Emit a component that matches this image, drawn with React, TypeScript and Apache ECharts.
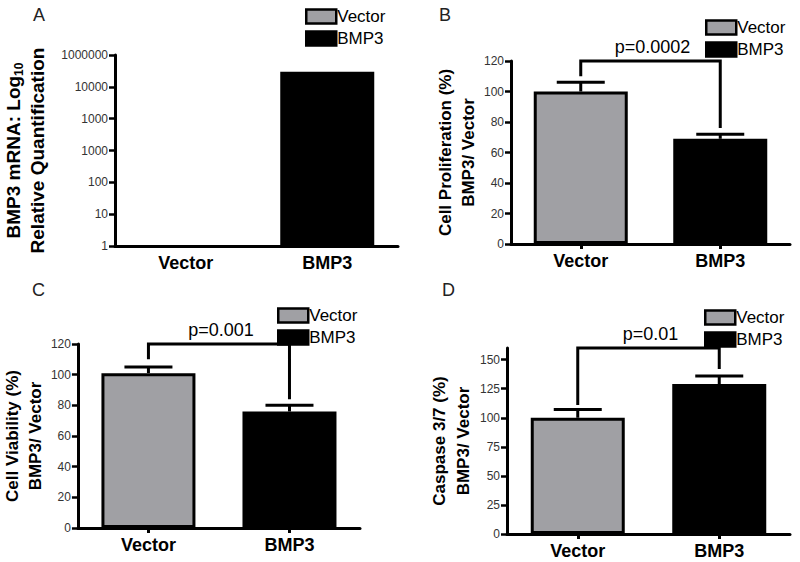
import React, { useEffect, useRef } from 'react';
import * as echarts from 'echarts';

const categories = ['Vector', 'BMP3'];
// Panel A: log scale, relative quantification
const mrnaValues = [1, 300000];
const mrnaTickLabels = ['1', '10', '100', '1000', '1000', '10000', '1000000'];
// Panel B: cell proliferation (%)
const prolifMeans = [100, 69];
const prolifUpper = [106, 72];
// Panel C: cell viability (%)
const viabMeans = [101, 76];
const viabUpper = [105, 80];
// Panel D: caspase 3/7 (%)
const caspMeans = [100, 129];
const caspUpper = [107, 136];
const caspTicks = [0, 25, 50, 75, 100, 125, 150];
// significance brackets: [top, left end, right end]
const bracketB = [120, 110, 76];
const bracketC = [120, 110, 84];
const bracketD = [160, 111, 142];
const pLabels = ['p=0.0002', 'p=0.001', 'p=0.01'];
const panelLetters = ['A', 'B', 'C', 'D'];

const FONT = 'Liberation Sans, Arial, Helvetica, sans-serif';
const GRAY = '#a0a0a4';

function xAxis(idx: number, ticks: boolean) {
  return {
    type: 'category',
    gridIndex: idx,
    data: categories,
    axisLine: { show: true, lineStyle: { color: '#000', width: 3 } },
    axisTick: { show: ticks, alignWithLabel: true, length: 5, lineStyle: { color: '#000', width: 3 } },
    axisLabel: { fontSize: 18, fontWeight: 'bold', color: '#000', margin: 8, fontFamily: FONT },
    splitLine: { show: false },
  };
}

function yAxisBase(idx: number, name: string, nameGap: number, fontSize: number, lineHeight: number) {
  return {
    gridIndex: idx,
    name,
    nameLocation: 'middle',
    nameRotate: 90,
    nameGap,
    nameTextStyle: {
      fontSize,
      fontWeight: 'bold',
      color: '#000',
      lineHeight,
      fontFamily: FONT,
      rich: {
        s: { fontSize: 12, fontWeight: 'bold', lineHeight: 16, verticalAlign: 'bottom', color: '#000' },
      },
    },
    axisLine: { show: true, lineStyle: { color: '#000', width: 3 } },
    axisTick: { show: true, length: 6, lineStyle: { color: '#000', width: 2.5 } },
    axisLabel: { fontSize: 12, color: '#333', margin: 7, fontFamily: FONT },
    splitLine: { show: false },
  };
}

function barPair(idx: number, values: number[], border: number) {
  return [
    {
      type: 'bar',
      name: 'Vector',
      xAxisIndex: idx,
      yAxisIndex: idx,
      data: [values[0], '-'],
      barWidth: 94,
      barGap: '-100%',
      itemStyle: { color: GRAY, borderColor: '#000', borderWidth: border },
      z: 2,
    },
    {
      type: 'bar',
      name: 'BMP3',
      xAxisIndex: idx,
      yAxisIndex: idx,
      data: ['-', values[1]],
      barWidth: 94,
      barGap: '-100%',
      itemStyle: { color: '#000', borderColor: '#000', borderWidth: 3 },
      z: 2,
    },
  ];
}

function errorBars(idx: number, means: number[], upper: number[]) {
  return {
    type: 'custom',
    xAxisIndex: idx,
    yAxisIndex: idx,
    z: 3,
    encode: { x: 0, y: 2 },
    data: means.map((m, i) => [i, m, upper[i]]),
    renderItem: (_params: any, api: any) => {
      const base = api.coord([api.value(0), api.value(1)]);
      const top = api.coord([api.value(0), api.value(2)]);
      return {
        type: 'group',
        children: [
          { type: 'line', shape: { x1: base[0], y1: base[1], x2: top[0], y2: top[1] }, style: { stroke: '#000', lineWidth: 3 } },
          { type: 'line', shape: { x1: top[0] - 24, y1: top[1], x2: top[0] + 24, y2: top[1] }, style: { stroke: '#000', lineWidth: 3 } },
        ],
      };
    },
  };
}

function bracket(idx: number, b: number[], label: string) {
  return {
    type: 'custom',
    xAxisIndex: idx,
    yAxisIndex: idx,
    z: 4,
    encode: { x: 0, y: 1 },
    data: [[0, b[0], b[1], b[2]]],
    renderItem: (_params: any, api: any) => {
      const l = api.coord([0, api.value(1)]);
      const r = api.coord([1, api.value(1)]);
      const le = api.coord([0, api.value(2)]);
      const re = api.coord([1, api.value(3)]);
      return {
        type: 'group',
        children: [
          {
            type: 'polyline',
            shape: { points: [[le[0], le[1]], [l[0], l[1]], [r[0], r[1]], [re[0], re[1]]] },
            style: { stroke: '#000', lineWidth: 3, fill: null },
          },
          {
            type: 'text',
            x: (l[0] + r[0]) / 2 + 2,
            y: l[1] - 5,
            style: { text: label, fill: '#000', fontSize: 18, fontFamily: FONT, align: 'center', verticalAlign: 'bottom' },
          },
        ],
      };
    },
  };
}

function legend(left: number, top: number) {
  return {
    orient: 'vertical',
    left,
    top,
    padding: 0,
    itemGap: 5,
    itemWidth: 30,
    itemHeight: 14,
    icon: 'rect',
    selectedMode: false,
    data: ['Vector', 'BMP3'],
    itemStyle: { borderColor: '#000', borderWidth: 2.5 },
    textStyle: { fontSize: 17, color: '#000', fontFamily: FONT, padding: [0, 0, 0, -4] },
  };
}

export default function App() {
  const ref = useRef<HTMLDivElement>(null);
  useEffect(() => {
    if (!ref.current) return;
    const chart = echarts.init(ref.current, null, { renderer: 'svg' });
    const titlePos = [
      [33, 6],
      [439, 6],
      [32, 281],
      [442, 281],
    ];
    const option: any = {
      animation: false,
      backgroundColor: '#fff',
      textStyle: { fontFamily: FONT },
      title: panelLetters.map((t, i) => ({
        text: t,
        left: titlePos[i][0],
        top: titlePos[i][1],
        padding: 0,
        textStyle: { fontSize: 18, fontWeight: 'normal', color: '#222', fontFamily: FONT },
      })),
      legend: [legend(305, 8), legend(705, 19), legend(277, 307), legend(704, 309)],
      grid: [
        { left: 115, top: 55, width: 283, height: 191 },
        { left: 511, top: 61, width: 279, height: 183 },
        { left: 71, top: 344, width: 289, height: 184 },
        { left: 507, top: 348, width: 283, height: 186 },
      ],
      xAxis: [xAxis(0, false), xAxis(1, true), xAxis(2, true), xAxis(3, true)],
      yAxis: [
        {
          ...yAxisBase(0, 'BMP3 mRNA: Log{s|10}\nRelative Quantification', 66, 19, 24),
          type: 'log',
          logBase: 10,
          min: 1,
          max: 1000000,
          interval: 1,
          axisLabel: {
            fontSize: 12,
            color: '#333',
            margin: 7,
            fontFamily: FONT,
            formatter: (v: number) => mrnaTickLabels[Math.round(Math.log10(v))] ?? '',
          },
        },
        { ...yAxisBase(1, 'Cell Proliferation (%)\nBMP3/ Vector', 31, 17, 23), type: 'value', min: 0, max: 120, interval: 20 },
        { ...yAxisBase(2, 'Cell Viability (%)\nBMP3/ Vector', 25, 17, 23), type: 'value', min: 0, max: 120, interval: 20 },
        {
          ...yAxisBase(3, 'Caspase 3/7 (%)\nBMP3/ Vector', 32, 17, 23.5),
          type: 'value',
          min: 0,
          max: 160,
          interval: 25,
          axisTick: { show: true, length: 6, lineStyle: { color: '#000', width: 2.5 }, customValues: caspTicks },
          axisLabel: { fontSize: 12, color: '#333', margin: 7, fontFamily: FONT, customValues: caspTicks },
        },
      ],
      series: [
        ...barPair(0, mrnaValues, 0),
        ...barPair(1, prolifMeans, 3),
        errorBars(1, prolifMeans, prolifUpper),
        bracket(1, bracketB, pLabels[0]),
        ...barPair(2, viabMeans, 3),
        errorBars(2, viabMeans, viabUpper),
        bracket(2, bracketC, pLabels[1]),
        ...barPair(3, caspMeans, 3),
        errorBars(3, caspMeans, caspUpper),
        bracket(3, bracketD, pLabels[2]),
      ],
    };
    chart.setOption(option);
    return () => chart.dispose();
  }, []);
  return <div ref={ref} style={{ position: 'absolute', left: 0, top: 0, width: 800, height: 562 }} />;
}
